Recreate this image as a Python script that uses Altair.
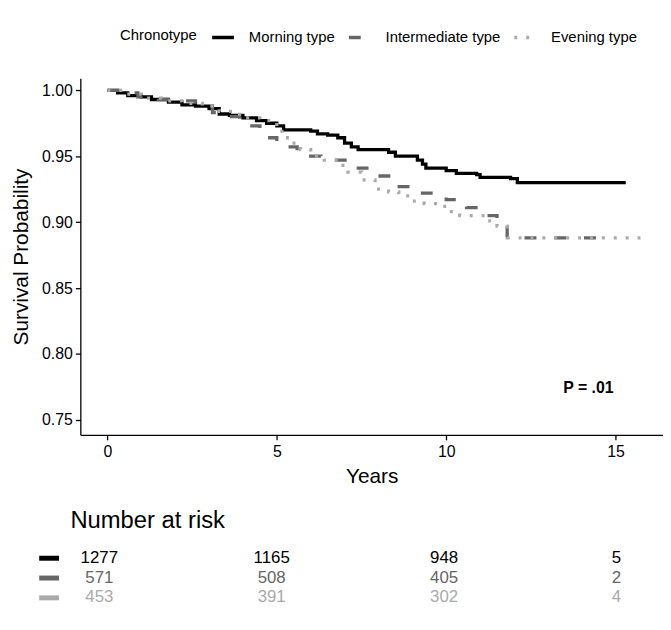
import altair as alt
import pandas as pd

# ---- Kaplan-Meier step data ----
series_names = ["Morning type", "Intermediate type", "Evening type"]

morning_t = [0, 0.3, 0.6, 1.0, 1.3, 1.8, 2.2, 2.6, 3.0, 3.3, 3.6, 4.0, 4.4, 4.7,
             5.0, 5.2, 6.0, 6.2, 6.5, 6.8, 7.0, 7.2, 7.4, 8.3, 8.5, 9.15, 9.3, 9.4,
             10.0, 10.3, 10.9, 11.0, 11.9, 12.1, 15.3]
morning_s = [1.000, 0.998, 0.996, 0.995, 0.993, 0.991, 0.989, 0.988, 0.986, 0.982,
             0.981, 0.979, 0.977, 0.975, 0.973, 0.970, 0.969, 0.967, 0.966, 0.964,
             0.960, 0.957, 0.955, 0.953, 0.950, 0.947, 0.944, 0.941, 0.939, 0.937,
             0.936, 0.934, 0.933, 0.930, 0.930]

intermediate_t = [0, 0.4, 0.9, 1.5, 2.0, 2.6, 3.1, 3.3, 3.9, 4.5, 5.0, 5.6, 6.3,
                  7.2, 7.8, 8.5, 9.3, 10.0, 10.6, 11.2, 11.5, 11.8, 14.9]
intermediate_s = [1.000, 0.998, 0.995, 0.993, 0.992, 0.990, 0.983, 0.980, 0.973,
                  0.964, 0.957, 0.950, 0.947, 0.941, 0.935, 0.927, 0.922, 0.917,
                  0.911, 0.905, 0.900, 0.888, 0.888]

evening_t = [0, 0.5, 1.0, 1.6, 2.2, 2.8, 3.3, 3.9, 4.5, 5.0, 5.15, 5.4, 5.7, 6.0,
             6.4, 6.8, 7.1, 7.5, 7.9, 8.3, 8.6, 8.95, 9.35, 9.75, 10.1, 10.4, 11.2,
             11.5, 11.8, 15.9]
evening_s = [1.000, 0.997, 0.994, 0.992, 0.990, 0.988, 0.984, 0.979, 0.977, 0.972,
             0.964, 0.960, 0.955, 0.950, 0.947, 0.943, 0.938, 0.932, 0.925, 0.923,
             0.920, 0.916, 0.914, 0.912, 0.908, 0.905, 0.901, 0.897, 0.888, 0.888]

# ---- number at risk table ----
risk_times = [0, 5, 10, 15]
risk_morning = [1277, 1165, 948, 5]
risk_intermediate = [571, 508, 405, 2]
risk_evening = [453, 391, 302, 4]

# ---- annotation ----
p_label = ["P = .01"]
p_x = [14.2]
p_y = [0.774]

x_ticks = [0, 5, 10, 15]
y_ticks = [0.75, 0.80, 0.85, 0.90, 0.95, 1.00]

colors = ["#000000", "#666666", "#aaaaaa"]
dashes = [[1, 0], [12, 18], [3, 9]]

rows = []
for name, ts, ss in [(series_names[0], morning_t, morning_s),
                     (series_names[1], intermediate_t, intermediate_s),
                     (series_names[2], evening_t, evening_s)]:
    for t, s in zip(ts, ss):
        rows.append({"Chronotype": name, "t": t, "s": s})
km = pd.DataFrame(rows)

risk_rows = []
for name, vals in [(series_names[0], risk_morning),
                   (series_names[1], risk_intermediate),
                   (series_names[2], risk_evening)]:
    for t, v in zip(risk_times, vals):
        risk_rows.append({"Chronotype": name, "t": t, "n": str(v)})
risk = pd.DataFrame(risk_rows)

pdf = pd.DataFrame({"label": p_label, "x": p_x, "y": p_y})

FONT = "Liberation Sans"

color_scale = alt.Scale(domain=series_names, range=colors)
dash_scale = alt.Scale(domain=series_names, range=dashes)

x_scale = alt.Scale(domain=[-0.8, 16.4], nice=False, zero=False)
y_scale = alt.Scale(domain=[0.7387, 1.0092], nice=False, zero=False)

lines = alt.Chart(km).mark_line(interpolate="step-after", strokeWidth=3.3).encode(
    x=alt.X("t:Q", scale=x_scale,
            axis=alt.Axis(values=x_ticks, title="Years", format="d",
                          titlePadding=6, labelPadding=4)),
    y=alt.Y("s:Q", scale=y_scale,
            axis=alt.Axis(values=y_ticks, format=".2f",
                          title="Survival Probability", titlePadding=10,
                          labelPadding=3)),
    color=alt.Color("Chronotype:N", scale=color_scale, sort=series_names,
                    legend=alt.Legend(
                        orient="none", legendX=40, legendY=-54,
                        direction="horizontal", titleOrient="left",
                        title="Chronotype", symbolType="stroke",
                        symbolSize=484, symbolStrokeWidth=3.5,
                        labelFontSize=15, titleFontSize=15,
                        titleFontWeight="normal", titlePadding=13,
                        labelOffset=13, columnPadding=7, padding=0,
                        labelFont=FONT, titleFont=FONT, labelColor="black",
                        titleColor="black")),
    strokeDash=alt.StrokeDash("Chronotype:N", scale=dash_scale, sort=series_names),
    order=alt.Order("ord:Q"),
).transform_calculate(
    ord="indexof(['Morning type','Intermediate type','Evening type'], datum.Chronotype)"
)

ptext = alt.Chart(pdf).mark_text(fontSize=16, fontWeight="bold", font=FONT,
                                 color="black").encode(
    x=alt.X("x:Q", scale=x_scale),
    y=alt.Y("y:Q", scale=y_scale),
    text="label:N",
)

top = alt.layer(lines, ptext).properties(width=588, height=360)

tick_color = {
    "condition": [
        {"test": "datum.value === 'Morning type'", "value": colors[0]},
        {"test": "datum.value === 'Intermediate type'", "value": colors[1]},
    ],
    "value": colors[2],
}

table = alt.Chart(risk).mark_text(fontSize=17, font=FONT).encode(
    x=alt.X("t:Q", scale=alt.Scale(domain=[-0.55, 16.35], nice=False, zero=False),
            axis=None),
    y=alt.Y("Chronotype:N", sort=series_names,
            scale=alt.Scale(paddingInner=0, paddingOuter=0),
            axis=alt.Axis(title=None, labels=False, domain=False, tickSize=20,
                          tickWidth=5, offset=22, tickColor=tick_color)),
    color=alt.Color("Chronotype:N", scale=color_scale, legend=None),
    text="n:N",
).properties(
    width=588, height=60,
    title=alt.TitleParams("Number at risk", anchor="start", fontSize=24,
                          fontWeight="normal", font=FONT, color="black",
                          frame="group", dx=-10, offset=15),
)

chart = alt.vconcat(top, table, spacing=23).resolve_scale(
    x="independent", y="independent"
).resolve_legend(
    color="independent", strokeDash="independent"
).properties(
    padding={"left": 2, "top": 14, "right": 0, "bottom": 5},
).configure(font=FONT, background="white").configure_view(
    stroke=None
).configure_axis(
    grid=False, domainColor="black", domainWidth=1.3, tickColor="black",
    tickWidth=1.3, tickSize=5, labelColor="black", labelFontSize=16,
    labelFont=FONT, titleFont=FONT, titleFontSize=21, titleFontWeight="normal",
    titleColor="black",
)

chart.save("out.html", embed_options={"renderer": "svg", "actions": False})
